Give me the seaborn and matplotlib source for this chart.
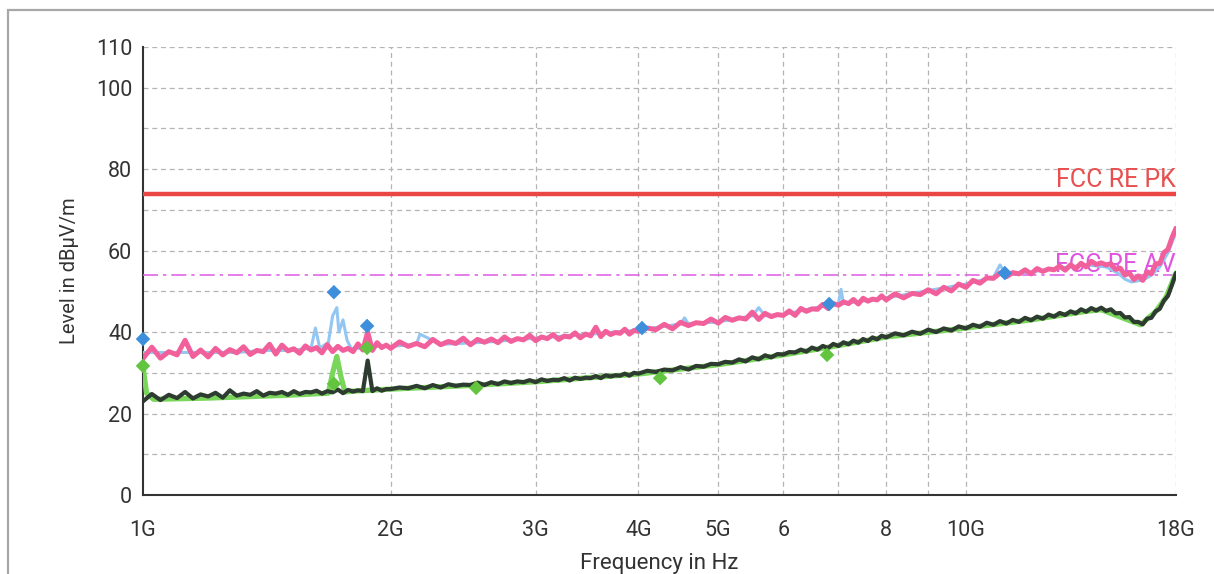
import numpy as np
import pandas as pd
import matplotlib
matplotlib.use("Agg")
import matplotlib.pyplot as plt
from matplotlib.patches import Rectangle
from matplotlib.ticker import FixedLocator, NullFormatter
import seaborn as sns

# ---- sweep data (frequency in GHz, level in dBuV/m) ----
sweep_ghz = [
    1.000, 1.025, 1.050, 1.075, 1.100, 1.125, 1.150, 1.175, 1.200, 1.225,
    1.250, 1.275, 1.300, 1.325, 1.350, 1.375, 1.400, 1.425, 1.450, 1.475,
    1.500, 1.525, 1.550, 1.575, 1.600, 1.625, 1.650, 1.675, 1.700, 1.725,
    1.750, 1.775, 1.800, 1.825, 1.850, 1.875, 1.900, 1.925, 1.950, 1.975,
    2.00, 2.05, 2.10, 2.15, 2.20, 2.25, 2.30, 2.35, 2.40, 2.45,
    2.50, 2.55, 2.60, 2.65, 2.70, 2.75, 2.80, 2.85, 2.90, 2.95,
    3.00, 3.05, 3.10, 3.15, 3.20, 3.25, 3.30, 3.35, 3.40, 3.45,
    3.50, 3.55, 3.60, 3.65, 3.70, 3.75, 3.80, 3.85, 3.90, 3.95,
    4.0, 4.1, 4.2, 4.3, 4.4, 4.5, 4.6, 4.7, 4.8, 4.9,
    5.0, 5.1, 5.2, 5.3, 5.4, 5.5, 5.6, 5.7, 5.8, 5.9,
    6.0, 6.1, 6.2, 6.3, 6.4, 6.5, 6.6, 6.7, 6.8, 6.9,
    7.0, 7.1, 7.2, 7.3, 7.4, 7.5, 7.6, 7.7, 7.8, 7.9,
    8.0, 8.2, 8.4, 8.6, 8.8, 9.0, 9.2, 9.4, 9.6, 9.8,
    10.0, 10.2, 10.4, 10.6, 10.8, 11.0, 11.2, 11.4, 11.6, 11.8,
    12.0, 12.2, 12.4, 12.6, 12.8, 13.0, 13.2, 13.4, 13.6, 13.8,
    14.0, 14.2, 14.4, 14.6, 14.8, 15.0, 15.2, 15.4, 15.6, 15.8,
    16.0, 16.2, 16.4, 16.6, 16.8, 17.0, 17.2, 17.4, 17.6, 17.8,
    18.0,
]

peak_vert = [
    33.5, 36.3, 33.6, 35.2, 34.4, 38.0, 34.0, 35.6, 33.9, 36.0,
    34.4, 35.7, 34.9, 36.4, 34.5, 35.5, 35.2, 37.0, 34.6, 36.8,
    35.4, 35.9, 34.8, 36.6, 35.6, 36.2, 34.9, 36.9, 35.2, 36.5,
    35.5, 36.0, 35.2, 37.1, 35.6, 40.0, 35.5, 37.4, 36.2, 36.8,
    36.0, 37.6, 36.5, 37.2, 36.4, 38.2, 36.9, 37.7, 37.2, 38.5,
    36.9, 38.2, 37.5, 38.3, 37.4, 38.8, 37.7, 38.4, 38.1, 39.2,
    37.9, 38.8, 38.4, 39.4, 38.2, 39.0, 38.8, 39.8, 38.6, 39.5,
    39.1, 41.2, 38.9, 40.2, 39.4, 39.9, 39.7, 40.7, 39.5, 40.4,
    40.2, 41.0, 40.6, 41.9, 40.8, 42.4, 41.6, 42.3, 42.1, 43.2,
    42.2, 43.6, 42.9, 43.5, 43.2, 44.9, 43.1, 44.6, 43.8, 44.3,
    44.1, 45.2, 44.1, 45.8, 45.1, 45.7, 45.6, 46.8, 45.8, 47.0,
    46.6, 47.4, 47.0, 48.0, 46.9, 48.3, 47.6, 48.1, 47.9, 48.9,
    47.9, 49.4, 48.4, 49.5, 49.2, 50.4, 49.4, 51.0, 50.1, 51.8,
    51.0, 52.7, 52.0, 53.3, 53.2, 54.5, 53.6, 54.6, 54.3, 55.3,
    54.3, 55.6, 54.9, 55.5, 55.3, 56.2, 55.2, 56.5, 55.6, 56.9,
    56.0, 57.4, 56.6, 57.0, 56.5, 56.8, 55.4, 55.7, 54.0, 54.5,
    52.9, 53.8, 52.7, 54.8, 54.3, 56.8, 56.8, 59.5, 60.3, 63.2,
    65.5,
]

avg_vert = [
    23.0, 24.8, 23.3, 24.6, 23.8, 25.3, 23.7, 24.7, 24.2, 25.1,
    23.9, 25.7, 24.4, 24.9, 24.6, 25.5, 24.4, 25.1, 24.9, 25.3,
    24.6, 25.5, 24.8, 25.3, 25.2, 25.6, 24.9, 25.5, 25.2, 25.9,
    25.0, 25.8, 25.4, 25.7, 25.5, 33.0, 25.5, 26.2, 25.6, 26.0,
    26.0, 26.4, 26.2, 26.8, 26.2, 27.0, 26.4, 27.2, 26.8, 27.1,
    27.0, 27.6, 27.0, 27.7, 27.2, 27.9, 27.5, 27.9, 27.7, 28.2,
    27.7, 28.4, 28.0, 28.3, 28.2, 28.7, 28.1, 28.8, 28.5, 28.8,
    28.7, 29.2, 28.7, 29.4, 29.1, 29.4, 29.3, 29.8, 29.3, 30.0,
    29.8, 30.5, 30.2, 30.8, 30.6, 31.4, 30.8, 31.7, 31.5, 32.2,
    32.1, 32.7, 32.5, 33.3, 32.8, 33.8, 33.3, 34.3, 33.8, 34.6,
    34.5, 35.1, 35.0, 35.7, 35.2, 36.2, 35.7, 36.6, 36.1, 37.1,
    36.6, 37.5, 37.0, 37.9, 37.4, 38.3, 37.8, 38.7, 38.2, 39.1,
    38.7, 39.7, 39.2, 40.1, 39.6, 40.6, 40.0, 40.9, 40.4, 41.4,
    40.9, 41.8, 41.3, 42.3, 41.8, 42.7, 42.1, 43.0, 42.5, 43.5,
    42.9, 43.8, 43.3, 44.3, 43.8, 44.7, 44.2, 45.1, 44.6, 45.6,
    45.0, 45.9, 45.3, 46.0, 45.2, 45.6, 44.6, 44.7, 43.6, 43.7,
    42.5, 42.5, 41.9, 43.3, 43.5, 45.1, 45.7, 47.7, 48.9, 51.6,
    54.5,
]

# second polarisation, peak detector
peak_horiz_ghz = [
    1.0, 1.1, 1.2, 1.3, 1.4, 1.5, 1.6, 1.62, 1.64, 1.68, 1.70, 1.72, 1.73,
    1.75, 1.77, 1.79, 1.82, 1.9, 2.0, 2.15, 2.17, 2.3, 2.6, 3.0, 3.5, 4.0,
    4.5, 4.55, 4.6, 5.0, 5.5, 5.6, 5.7, 6.0, 6.5, 7.0, 7.05, 7.1, 8.0, 9.0,
    10.0, 10.8, 11.0, 11.2, 12.0, 13.0, 14.0, 14.8, 15.3, 15.6, 15.9, 16.2,
    16.5, 16.8, 17.2, 17.6, 18.0,
]
peak_horiz = [
    35.0, 35.0, 35.0, 35.0, 35.5, 35.5, 36.0, 41.0, 36.0, 37.5, 44.0, 46.0, 40.0,
    43.0, 38.0, 36.0, 36.0, 36.5, 36.5, 37.0, 39.5, 37.0, 37.5, 38.5, 39.5, 40.5,
    42.0, 43.5, 42.0, 42.5, 44.0, 46.0, 44.0, 44.3, 45.8, 47.0, 50.5, 47.0, 48.4, 50.2,
    51.8, 53.5, 56.5, 54.0, 54.8, 55.7, 56.5, 56.0, 54.5, 53.0, 52.3, 52.6,
    53.0, 54.0, 56.0, 59.5, 64.5,
]

# second polarisation, average detector
avg_horiz_ghz = [
    1.0, 1.01, 1.03, 1.2, 1.5, 1.68, 1.70, 1.72, 1.74, 1.76, 1.8, 2.0, 2.5,
    3.0, 4.0, 5.0, 6.0, 7.0, 8.0, 10.0, 12.0, 14.0, 14.6, 15.5, 16.3, 17.0,
    17.5, 18.0,
]
avg_horiz = [
    31.5, 25.0, 23.5, 23.8, 24.5, 25.0, 30.0, 34.0, 29.0, 25.3, 25.5, 26.0, 26.9,
    27.8, 29.7, 32.0, 34.4, 36.7, 38.8, 41.0, 43.0, 45.1, 45.5, 43.5, 41.8, 45.0,
    48.5, 54.5,
]

# final measurements
final_pk_ghz = [1.0, 1.706, 1.872, 4.04, 6.82, 11.15]
final_pk = [38.3, 49.8, 41.5, 41.0, 46.9, 54.5]
final_av_ghz = [1.0, 1.706, 1.872, 2.54, 4.25, 6.78]
final_av = [31.7, 27.3, 36.1, 26.3, 28.7, 34.4]

# limits
limit_pk = 74.0
limit_av = 54.0

x_ticks_ghz = [1, 2, 3, 4, 5, 6, 7, 8, 9, 10, 18]
x_tick_labels = ["1G", "2G", "3G", "4G", "5G", "6", "", "8", "", "10G", "18G"]
y_major = [0, 20, 40, 60, 80, 100, 110]
y_minor = [10, 30, 50, 70, 90]

# ---- styling ----
sns.set_theme(style="white")
plt.rcParams["font.family"] = ["Roboto", "DejaVu Sans"]

W, H, DPI = 1214, 574, 100
fig = plt.figure(figsize=(W / DPI, H / DPI), dpi=DPI)
fig.patch.set_facecolor("white")
ax = fig.add_axes([143 / W, 1 - 495 / H, (1176 - 143) / W, (495 - 47) / H])
ax.set_facecolor("white")

# outer panel border
fig.add_artist(Rectangle((8 / W, -0.2), 2.0, 1.2 - 10 / H, transform=fig.transFigure,
                         fill=False, edgecolor="#a8a8a8", linewidth=1.6, zorder=0))

ax.set_xscale("log")
ax.set_xlim(1e9, 18e9)
ax.set_ylim(0, 110)

to_hz = lambda seq: np.asarray(seq, dtype=float) * 1e9

sweep = pd.DataFrame({"f": to_hz(sweep_ghz), "pk": peak_vert, "av": avg_vert})
hpk = pd.DataFrame({"f": to_hz(peak_horiz_ghz), "v": peak_horiz})
hav = pd.DataFrame({"f": to_hz(avg_horiz_ghz), "v": avg_horiz})

# grid
grid_kw = dict(color="#b4b4b4", linewidth=0.9, linestyle=(0, (4, 3)), zorder=0.5)
for yv in y_major + y_minor:
    if yv > 0:
        ax.axhline(yv, **grid_kw)
for xv in x_ticks_ghz[1:]:
    ax.axvline(xv * 1e9, **grid_kw)

# limit lines
ax.axhline(limit_pk, color="#ec4545", linewidth=3.2, zorder=3)
ax.axhline(limit_av, color="#e066e6", linewidth=1.2, linestyle=(0, (9, 3, 2, 3)), zorder=3)
ax.text(18e9, limit_pk + 0.5, "FCC RE PK", color="#e85050", fontsize=18,
        ha="right", va="bottom", zorder=2)
ax.text(18e9, limit_av - 0.4, "FCC RE AV", color="#df55df", fontsize=18,
        ha="right", va="bottom", zorder=2)

# traces
sns.lineplot(data=hav, x="f", y="v", color="#79d65a", linewidth=3.8, estimator=None,
             sort=False, ax=ax, zorder=4)
sns.lineplot(data=sweep, x="f", y="av", color="#2e3b30", linewidth=3.0, estimator=None,
             sort=False, ax=ax, zorder=5)
sns.lineplot(data=hpk, x="f", y="v", color="#93c6f2", linewidth=2.2, estimator=None,
             sort=False, ax=ax, zorder=4)
sns.lineplot(data=sweep, x="f", y="pk", color="#f2609c", linewidth=3.6, estimator=None,
             sort=False, ax=ax, zorder=5)

# final measurement markers
sns.scatterplot(x=to_hz(final_pk_ghz), y=final_pk, marker="D", s=55, color="#3d8fdc",
                edgecolor="none", ax=ax, zorder=6, clip_on=False)
sns.scatterplot(x=to_hz(final_av_ghz), y=final_av, marker="D", s=55, color="#62c43f",
                edgecolor="none", ax=ax, zorder=6, clip_on=False)

# axes and ticks
for side in ("top", "right"):
    ax.spines[side].set_visible(False)
for side in ("left", "bottom"):
    ax.spines[side].set_color("#333333")
    ax.spines[side].set_linewidth(1.5)

ax.xaxis.set_major_locator(FixedLocator([v * 1e9 for v in x_ticks_ghz]))
ax.xaxis.set_minor_locator(FixedLocator([]))
ax.set_xticklabels(x_tick_labels)
ax.xaxis.set_minor_formatter(NullFormatter())
ax.set_yticks(y_major)
ax.set_yticks(y_minor, minor=True)

ax.tick_params(axis="both", which="both", direction="inout", length=11.5, width=1.3,
               color="#333333", labelcolor="#333333", labelsize=15.5)
ax.tick_params(axis="x", which="major", pad=12)
ax.tick_params(axis="y", which="major", pad=2)

ax.set_xlabel("Frequency in Hz", fontsize=16, color="#333333", labelpad=9)
ax.set_ylabel("Level in dBµV/m", fontsize=14.5, color="#333333", labelpad=12)

fig.savefig("out.png", dpi=DPI, facecolor="white")
